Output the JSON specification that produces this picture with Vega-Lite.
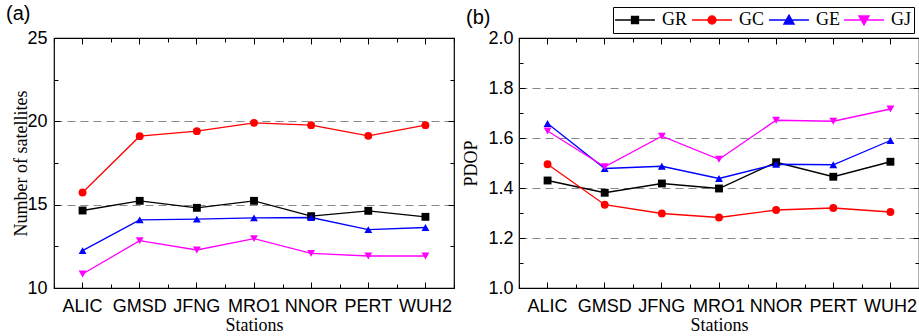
{
  "$schema": "https://vega.github.io/schema/vega-lite/v6.json",
  "padding": {"left": 5, "top": 3, "right": 1, "bottom": 2},
  "background": "white",
  "spacing": 6,
  "datasets": {
    "nsat": [
      {"station": "ALIC", "system": "GR", "value": 14.65}, {"station": "GMSD", "system": "GR", "value": 15.23}, {"station": "JFNG", "system": "GR", "value": 14.81}, {"station": "MRO1", "system": "GR", "value": 15.23}, {"station": "NNOR", "system": "GR", "value": 14.31}, {"station": "PERT", "system": "GR", "value": 14.63}, {"station": "WUH2", "system": "GR", "value": 14.27},
      {"station": "ALIC", "system": "GC", "value": 15.73}, {"station": "GMSD", "system": "GC", "value": 19.11}, {"station": "JFNG", "system": "GC", "value": 19.41}, {"station": "MRO1", "system": "GC", "value": 19.91}, {"station": "NNOR", "system": "GC", "value": 19.77}, {"station": "PERT", "system": "GC", "value": 19.13}, {"station": "WUH2", "system": "GC", "value": 19.77},
      {"station": "ALIC", "system": "GE", "value": 12.24}, {"station": "GMSD", "system": "GE", "value": 14.09}, {"station": "JFNG", "system": "GE", "value": 14.13}, {"station": "MRO1", "system": "GE", "value": 14.21}, {"station": "NNOR", "system": "GE", "value": 14.23}, {"station": "PERT", "system": "GE", "value": 13.5}, {"station": "WUH2", "system": "GE", "value": 13.63},
      {"station": "ALIC", "system": "GJ", "value": 10.84}, {"station": "GMSD", "system": "GJ", "value": 12.84}, {"station": "JFNG", "system": "GJ", "value": 12.28}, {"station": "MRO1", "system": "GJ", "value": 12.96}, {"station": "NNOR", "system": "GJ", "value": 12.08}, {"station": "PERT", "system": "GJ", "value": 11.92}, {"station": "WUH2", "system": "GJ", "value": 11.92}
    ],
    "pdop": [
      {"station": "ALIC", "system": "GR", "value": 1.43}, {"station": "GMSD", "system": "GR", "value": 1.381}, {"station": "JFNG", "system": "GR", "value": 1.418}, {"station": "MRO1", "system": "GR", "value": 1.398}, {"station": "NNOR", "system": "GR", "value": 1.503}, {"station": "PERT", "system": "GR", "value": 1.445}, {"station": "WUH2", "system": "GR", "value": 1.505},
      {"station": "ALIC", "system": "GC", "value": 1.495}, {"station": "GMSD", "system": "GC", "value": 1.333}, {"station": "JFNG", "system": "GC", "value": 1.298}, {"station": "MRO1", "system": "GC", "value": 1.282}, {"station": "NNOR", "system": "GC", "value": 1.312}, {"station": "PERT", "system": "GC", "value": 1.32}, {"station": "WUH2", "system": "GC", "value": 1.304},
      {"station": "ALIC", "system": "GE", "value": 1.658}, {"station": "GMSD", "system": "GE", "value": 1.478}, {"station": "JFNG", "system": "GE", "value": 1.487}, {"station": "MRO1", "system": "GE", "value": 1.438}, {"station": "NNOR", "system": "GE", "value": 1.495}, {"station": "PERT", "system": "GE", "value": 1.493}, {"station": "WUH2", "system": "GE", "value": 1.59},
      {"station": "ALIC", "system": "GJ", "value": 1.628}, {"station": "GMSD", "system": "GJ", "value": 1.485}, {"station": "JFNG", "system": "GJ", "value": 1.607}, {"station": "MRO1", "system": "GJ", "value": 1.515}, {"station": "NNOR", "system": "GJ", "value": 1.671}, {"station": "PERT", "system": "GJ", "value": 1.667}, {"station": "WUH2", "system": "GJ", "value": 1.716}
    ]
  },
  "config": {
    "view": {"stroke": "#000000", "strokeWidth": 1.2},
    "axis": {"labelFont": "Liberation Sans", "labelFontSize": 18, "labelColor": "#000000", "titleFont": "Liberation Serif", "titleFontSize": 18, "titleFontWeight": "normal", "titleColor": "#000000", "tickColor": "#000000", "tickSize": -5, "tickWidth": 1, "domain": false, "grid": false, "labelOverlap": false},
    "title": {"font": "Liberation Sans", "fontSize": 20, "fontWeight": "normal", "color": "#000000", "anchor": "start", "frame": "bounds"}
  },
  "resolve": {"scale": {"color": "independent", "shape": "independent", "fill": "independent"}},
  "hconcat": [
    {
      "width": 400, "height": 250,
      "title": {"text": "(a)", "dx": -7, "offset": 5},
      "data": {"name": "nsat"},
      "layer": [
        {
          "mark": {"type": "line", "strokeWidth": 1.3},
          "encoding": {
            "x": {"field": "station", "type": "nominal", "bandPosition": 0.5, "scale": {"type": "band", "domain": ["ALIC", "GMSD", "JFNG", "MRO1", "NNOR", "PERT", "WUH2"], "paddingInner": 0, "paddingOuter": 0}, "axis": {"orient": "bottom", "title": "Stations", "labelAngle": 0, "labelPadding": 15, "titlePadding": 1, "tickBand": "center", "tickSize": -6}},
            "y": {"field": "value", "type": "quantitative", "scale": {"domain": [10, 25], "nice": false, "zero": false}, "axis": {"orient": "left", "title": "Number of satellites", "values": [10, 12.5, 15, 17.5, 20, 22.5, 25], "labelExpr": "datum.value % 5 === 0 ? datum.label : ''", "labelPadding": 13, "titlePadding": -4, "tickSize": {"condition": {"test": "datum.value % 5 === 0", "value": -6}, "value": -4}, "grid": true, "gridColor": "#888888", "gridDash": [8, 5], "gridWidth": 1.1, "gridOpacity": {"condition": {"test": "datum.value == 15 || datum.value == 20", "value": 1}, "value": 0}}},
            "color": {"field": "system", "type": "nominal", "scale": {"domain": ["GR", "GC", "GE", "GJ"], "range": ["#000000", "#ff0000", "#0000ff", "#ff00ff"]}, "legend": null}
          }
        },
        {
          "mark": {"type": "point", "filled": true, "size": 62, "opacity": 1},
          "encoding": {
            "x": {"field": "station", "type": "nominal", "bandPosition": 0.5, "axis": {"orient": "top", "title": null, "labels": false, "tickBand": "center", "tickSize": -6}},
            "y": {"field": "value", "type": "quantitative", "axis": {"orient": "right", "title": null, "labels": false, "values": [10, 12.5, 15, 17.5, 20, 22.5, 25], "tickSize": {"condition": {"test": "datum.value % 5 === 0", "value": -6}, "value": -4}}},
            "color": {"field": "system", "type": "nominal", "scale": {"domain": ["GR", "GC", "GE", "GJ"], "range": ["#000000", "#ff0000", "#0000ff", "#ff00ff"]}, "legend": null},
            "shape": {"field": "system", "type": "nominal", "scale": {"domain": ["GR", "GC", "GE", "GJ"], "range": ["square", "circle", "triangle-up", "triangle-down"]}, "legend": null}
          }
        },
        {
          "mark": {"type": "point", "opacity": 0},
          "encoding": {
            "x": {"field": "station", "type": "nominal", "bandPosition": 0.5, "axis": {"orient": "bottom", "title": null, "labels": false, "tickBand": "extent", "tickSize": -4}},
            "y": {"field": "value", "type": "quantitative", "axis": null}
          }
        },
        {
          "mark": {"type": "point", "opacity": 0},
          "encoding": {
            "x": {"field": "station", "type": "nominal", "bandPosition": 0.5, "axis": {"orient": "top", "title": null, "labels": false, "tickBand": "extent", "tickSize": -4}},
            "y": {"field": "value", "type": "quantitative", "axis": null}
          }
        }
      ],
      "resolve": {"axis": {"x": "independent", "y": "independent"}}
    },
    {
      "width": 400, "height": 250,
      "title": {"text": "(b)", "dx": 3, "offset": -21},
      "data": {"name": "pdop"},
      "layer": [
        {
          "mark": {"type": "line", "strokeWidth": 1.3},
          "encoding": {
            "x": {"field": "station", "type": "nominal", "bandPosition": 0.5, "scale": {"type": "band", "domain": ["ALIC", "GMSD", "JFNG", "MRO1", "NNOR", "PERT", "WUH2"], "paddingInner": 0, "paddingOuter": 0}, "axis": {"orient": "bottom", "title": "Stations", "labelAngle": 0, "labelPadding": 15, "titlePadding": 1, "tickBand": "center", "tickSize": -6}},
            "y": {"field": "value", "type": "quantitative", "scale": {"domain": [1.0, 2.0], "nice": false, "zero": false}, "axis": {"orient": "left", "title": "PDOP", "values": [1.0, 1.1, 1.2, 1.3, 1.4, 1.5, 1.6, 1.7, 1.8, 1.9, 2.0], "labelExpr": "round(datum.value * 10) % 2 === 0 ? format(datum.value, '.1f') : ''", "labelPadding": 12, "titlePadding": 7, "tickSize": {"condition": {"test": "round(datum.value * 10) % 2 === 0", "value": -6}, "value": -4}, "grid": true, "gridColor": "#888888", "gridDash": [8, 5], "gridWidth": 1.1, "gridOpacity": {"condition": {"test": "round(datum.value * 10) % 2 === 0 && datum.value > 1.05 && datum.value < 1.95", "value": 1}, "value": 0}}},
            "color": {"field": "system", "type": "nominal", "scale": {"domain": ["GR", "GC", "GE", "GJ"], "range": ["#000000", "#ff0000", "#0000ff", "#ff00ff"]}, "legend": null}
          }
        },
        {
          "mark": {"type": "point", "filled": true, "size": 62, "opacity": 1},
          "encoding": {
            "x": {"field": "station", "type": "nominal", "bandPosition": 0.5, "axis": {"orient": "top", "title": null, "labels": false, "tickBand": "center", "tickSize": -6}},
            "y": {"field": "value", "type": "quantitative", "axis": {"orient": "right", "title": null, "labels": false, "values": [1.0, 1.1, 1.2, 1.3, 1.4, 1.5, 1.6, 1.7, 1.8, 1.9, 2.0], "tickSize": {"condition": {"test": "round(datum.value * 10) % 2 === 0", "value": -6}, "value": -4}}},
            "color": {"field": "system", "type": "nominal", "scale": {"domain": ["GR", "GC", "GE", "GJ"], "range": ["#000000", "#ff0000", "#0000ff", "#ff00ff"]}, "legend": null},
            "shape": {"field": "system", "type": "nominal", "scale": {"domain": ["GR", "GC", "GE", "GJ"], "range": ["square", "circle", "triangle-up", "triangle-down"]}, "legend": null}
          }
        },
        {
          "mark": {"type": "point", "opacity": 0, "filled": false, "size": 1444},
          "encoding": {
            "x": {"field": "station", "type": "nominal", "bandPosition": 0.5, "axis": {"orient": "bottom", "title": null, "labels": false, "tickBand": "extent", "tickSize": -4}},
            "y": {"field": "value", "type": "quantitative", "axis": null},
            "color": {"field": "system", "type": "nominal", "scale": {"domain": ["GR", "GC", "GE", "GJ"], "range": ["#000000", "#ff0000", "#0000ff", "#ff00ff"]}, "legend": {"orient": "none", "legendX": 94, "legendY": -31, "direction": "horizontal", "title": null, "labelFont": "Liberation Serif", "labelFontSize": 18, "labelColor": "#000000", "symbolSize": 1444, "symbolStrokeWidth": 1.3, "symbolOpacity": 1, "labelOffset": 7, "columnPadding": 4, "padding": 2, "strokeColor": "#000000", "clipHeight": 22}},
            "fill": {"field": "system", "type": "nominal", "scale": {"domain": ["GR", "GC", "GE", "GJ"], "range": ["#000000", "#ff0000", "#0000ff", "#ff00ff"]}, "legend": {"orient": "none", "legendX": 94, "legendY": -31, "direction": "horizontal", "title": null, "labelFont": "Liberation Serif", "labelFontSize": 18, "labelColor": "#000000", "symbolSize": 1444, "symbolStrokeWidth": 1.3, "symbolOpacity": 1, "labelOffset": 7, "columnPadding": 4, "padding": 2, "strokeColor": "#000000", "clipHeight": 22}},
            "shape": {"field": "system", "type": "nominal", "scale": {"domain": ["GR", "GC", "GE", "GJ"], "range": ["M-1.05,0H1.05M-0.184,-0.184H0.184V0.184H-0.184Z", "M-1.05,0H1.05M0.21,0A0.21,0.21,0,1,1,-0.21,0A0.21,0.21,0,1,1,0.21,0Z", "M-1.05,0H1.05M0,-0.26L0.27,0.21L-0.27,0.21Z", "M-1.05,0H1.05M0,0.26L0.27,-0.21L-0.27,-0.21Z"]}, "legend": {"orient": "none", "legendX": 94, "legendY": -31, "direction": "horizontal", "title": null, "labelFont": "Liberation Serif", "labelFontSize": 18, "labelColor": "#000000", "symbolSize": 1444, "symbolStrokeWidth": 1.3, "symbolOpacity": 1, "labelOffset": 7, "columnPadding": 4, "padding": 2, "strokeColor": "#000000", "clipHeight": 22}}
          }
        },
        {
          "mark": {"type": "point", "opacity": 0},
          "encoding": {
            "x": {"field": "station", "type": "nominal", "bandPosition": 0.5, "axis": {"orient": "top", "title": null, "labels": false, "tickBand": "extent", "tickSize": -4}},
            "y": {"field": "value", "type": "quantitative", "axis": null}
          }
        }
      ],
      "resolve": {"scale": {"color": "independent", "shape": "independent", "fill": "independent"}, "axis": {"x": "independent", "y": "independent"}}
    }
  ]
}
